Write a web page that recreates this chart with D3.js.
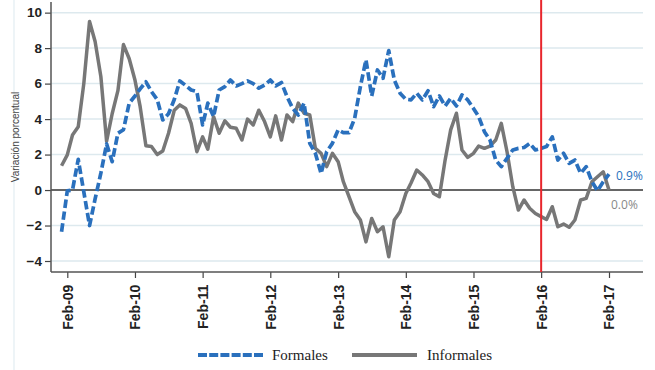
<!DOCTYPE html>
<html><head><meta charset="utf-8">
<script src="https://cdn.jsdelivr.net/npm/d3@7"></script>
<style>body{margin:0;background:#fff}svg{display:block}</style>
</head><body>
<svg id="c" width="655" height="370"></svg>
<script>
// Monthly series, Jan-2009 .. Feb-2017
const startYear = 2009, startMonth = 0;
const formales = [-2.35,-0.05,0.0,1.73,-0.1,-2.0,-0.5,0.95,2.6,1.6,3.2,3.4,4.9,5.3,5.7,6.1,5.55,5.1,3.95,4.3,
5.1,6.15,5.9,5.64,5.55,3.67,4.9,4.14,5.64,5.83,6.2,5.87,6.0,6.15,6.0,5.74,5.92,6.2,5.87,6.06,
5.27,4.6,4.23,4.9,2.63,2.07,0.94,2.16,2.63,3.39,3.24,3.24,4.04,5.83,7.34,5.3,6.77,6.3,7.86,6.2,
5.46,5.12,5.08,5.46,5.08,5.6,4.7,5.3,4.74,5.17,4.74,5.36,5.08,4.6,4.14,3.29,2.82,1.69,1.32,1.79,
2.26,2.35,2.4,2.63,2.26,2.35,2.45,3.0,1.69,2.07,1.5,1.69,0.94,1.32,0.47,-0.04,0.47,0.9];
const informales = [1.37,1.98,3.1,3.57,6.0,9.5,8.37,6.4,2.75,4.3,5.6,8.2,7.4,6.2,4.7,2.5,2.45,2.0,2.2,3.2,
4.5,4.8,4.6,3.76,2.16,3.0,2.3,4.14,3.2,3.9,3.54,3.48,2.82,4.0,3.67,4.5,3.86,3.0,4.18,2.82,
4.23,3.86,4.9,4.33,4.23,2.35,2.07,1.32,2.07,1.6,0.47,-0.38,-1.22,-1.69,-2.92,-1.6,-2.35,-2.07,-3.76,-1.69,
-1.22,-0.19,0.4,1.13,0.85,0.47,-0.19,-0.38,1.69,3.39,4.33,2.26,1.84,2.07,2.48,2.35,2.48,2.82,3.76,2.16,
0.19,-1.13,-0.56,-1.03,-1.32,-1.5,-1.66,-0.94,-2.07,-1.92,-2.1,-1.69,-0.56,-0.47,0.47,0.75,1.03,0.0];
const seriesNames = ["Formales","Informales"];
const endLabels = ["0.9%","0.0%"];
const yTicks = [-4,-2,0,2,4,6,8,10];
const xTickYears = [2009,2010,2011,2012,2013,2014,2015,2016,2017];
const markerDate = new Date(2016,1,1);
const yTitle = "Variación porcentual";

const dates = formales.map((_,i)=>new Date(startYear, startMonth+i, 1));
const svg = d3.select("#c");

const x = d3.scaleTime().domain([new Date(2009,1,1), new Date(2017,1,1)]).range([67.3, 609]);
const y = d3.scaleLinear().domain([-4.62, 10.6]).range([272, 2]);
const left = 51, right = 643, bottom = 272;

// frame line
svg.append("line").attr("x1",14).attr("x2",14).attr("y1",0).attr("y2",370)
  .attr("stroke","#e2edf2").attr("stroke-width",1.2);

// gridlines
svg.append("g").selectAll("line").data(yTicks.filter(d=>d!==0)).join("line")
  .attr("x1",left).attr("x2",right).attr("y1",d=>y(d)).attr("y2",d=>y(d))
  .attr("stroke","#dde9ee").attr("stroke-width",1.5);

// zero line
svg.append("line").attr("x1",left).attr("x2",right).attr("y1",y(0)).attr("y2",y(0))
  .attr("stroke","#333").attr("stroke-width",1.4);

// y axis
const ya = svg.append("g").attr("transform",`translate(${left},0)`)
  .call(d3.axisLeft(y).tickValues(yTicks).tickSize(6).tickPadding(3).tickFormat(d3.format("d")));
ya.select(".domain").remove();
ya.selectAll(".tick line").attr("stroke","#444").attr("stroke-width",1.2);
ya.selectAll("text").attr("font-family","'Liberation Sans', Arial, sans-serif").attr("font-size",13.5)
  .attr("font-weight","bold").attr("fill","#222");
svg.append("line").attr("x1",left).attr("x2",left).attr("y1",2).attr("y2",bottom)
  .attr("stroke","#555").attr("stroke-width",1.5);

// x axis
const xa = svg.append("g").attr("transform",`translate(0,${bottom})`)
  .call(d3.axisBottom(x).tickValues(xTickYears.map(yr=>new Date(yr,1,1)))
    .tickSize(6).tickFormat(d3.timeFormat("%b-%y")));
xa.select(".domain").remove();
xa.selectAll(".tick line").attr("stroke","#444").attr("stroke-width",1.2);
xa.selectAll("text").attr("font-family","'Liberation Sans', Arial, sans-serif").attr("font-size",14)
  .attr("font-weight","bold").attr("fill","#222")
  .attr("transform","rotate(-90)").attr("text-anchor","end").attr("dx","-0.9em").attr("dy","0.35em")
  .attr("x",0).attr("y",0);
svg.append("line").attr("x1",left).attr("x2",right).attr("y1",bottom).attr("y2",bottom)
  .attr("stroke","#555").attr("stroke-width",1.5);

// y title
svg.append("text").attr("transform","translate(19,137) rotate(-90)").attr("text-anchor","middle")
  .attr("font-family","'Liberation Sans', Arial, sans-serif").attr("font-size",10).attr("fill","#444")
  .text(yTitle);

const line = d3.line().x((d,i)=>x(dates[i])).y(d=>y(d));
const blue = "#2a70bd", grey = "#777777";

svg.append("path").datum(informales).attr("d",line).attr("fill","none")
  .attr("stroke",grey).attr("stroke-width",3.5).attr("stroke-linejoin","round");
svg.append("path").datum(formales).attr("d",line).attr("fill","none")
  .attr("stroke",blue).attr("stroke-width",3.7).attr("stroke-dasharray","8.5,3.5").attr("stroke-linejoin","round");

// marker line
svg.append("line").attr("x1",x(markerDate)).attr("x2",x(markerDate)).attr("y1",0).attr("y2",bottom)
  .attr("stroke","#e8262c").attr("stroke-width",2);

// end labels
svg.append("text").attr("x",616).attr("y",176).attr("dy","0.35em").attr("fill",blue)
  .attr("font-family","'Open Sans', Arial, sans-serif").attr("font-size",12).text(endLabels[0]);
svg.append("text").attr("x",611).attr("y",205).attr("dy","0.35em").attr("fill","#888")
  .attr("font-family","'Open Sans', Arial, sans-serif").attr("font-size",12).text(endLabels[1]);

// legend
const lg = svg.append("g");
lg.append("line").attr("x1",198).attr("x2",263).attr("y1",355).attr("y2",355)
  .attr("stroke",blue).attr("stroke-width",4).attr("stroke-dasharray","9,2.2");
lg.append("text").attr("x",272).attr("y",355).attr("dy","0.35em").attr("font-family","'Liberation Serif', serif")
  .attr("font-size",15).attr("fill","#222").text(seriesNames[0]);
lg.append("line").attr("x1",352).attr("x2",417).attr("y1",355).attr("y2",355)
  .attr("stroke",grey).attr("stroke-width",4);
lg.append("text").attr("x",427).attr("y",355).attr("dy","0.35em").attr("font-family","'Liberation Serif', serif")
  .attr("font-size",15).attr("fill","#222").text(seriesNames[1]);
</script>
</body></html>
